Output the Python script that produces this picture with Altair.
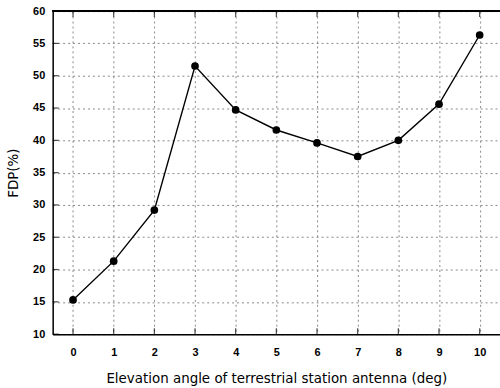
import altair as alt
import pandas as pd

angles = [0, 1, 2, 3, 4, 5, 6, 7, 8, 9, 10]
fdp = [15.3, 21.3, 29.2, 51.5, 44.7, 41.6, 39.6, 37.5, 40.0, 45.6, 56.3]
x_ticks = [0, 1, 2, 3, 4, 5, 6, 7, 8, 9, 10]
y_ticks = [10, 15, 20, 25, 30, 35, 40, 45, 50, 55, 60]

df = pd.DataFrame({"angle": angles, "fdp": fdp})
tick_df = pd.DataFrame({"t": x_ticks})
ytick_df = pd.DataFrame({"v": y_ticks})

W, H = 450, 325
font = "Liberation Sans"
tfont = "DejaVu Sans"

xscale = alt.Scale(domain=[-0.5, 10.5], nice=False, zero=False)
yscale = alt.Scale(domain=[10, 60], nice=False, zero=False)

xaxis = alt.Axis(values=x_ticks, title="Elevation angle of terrestrial station antenna (deg)",
                 grid=True, gridColor="#888888", gridDash=[2, 3], gridWidth=1,
                 domainColor="black", domainWidth=1.5, ticks=False,
                 labelOverlap=False, labelFlush=False,
                 labelFont=font, labelFontSize=11, labelFontWeight="bold", labelColor="black",
                 labelPadding=12, titleFont=tfont, titleFontSize=13.5, titleFontWeight="normal",
                 titleColor="black", titlePadding=15)
yaxis = alt.Axis(values=y_ticks, title="FDP(%)",
                 grid=True, gridColor="#888888", gridDash=[2, 3], gridWidth=1,
                 domainColor="black", domainWidth=1.5, ticks=False,
                 labelOverlap=False, labelFlush=False,
                 labelFont=font, labelFontSize=11, labelFontWeight="bold", labelColor="black",
                 labelPadding=8, titleFont=tfont, titleFontSize=13.5, titleFontWeight="normal",
                 titleColor="black", titlePadding=12)

base = alt.Chart(df)
line = base.mark_line(color="black", strokeWidth=1.4).encode(
    x=alt.X("angle:Q", scale=xscale, axis=xaxis),
    y=alt.Y("fdp:Q", scale=yscale, axis=yaxis),
)
pts = base.mark_point(filled=True, color="black", size=60, opacity=1).encode(
    x=alt.X("angle:Q", scale=xscale, axis=xaxis),
    y=alt.Y("fdp:Q", scale=yscale, axis=yaxis),
)
bottom_ticks = alt.Chart(tick_df).mark_tick(color="black", thickness=1.2, size=6).encode(
    x=alt.X("t:Q", scale=xscale, axis=xaxis),
    y=alt.value(H - 3),
)
top_ticks = alt.Chart(tick_df).mark_tick(color="black", thickness=1.2, size=6).encode(
    x=alt.X("t:Q", scale=xscale, axis=xaxis),
    y=alt.value(3),
)
left_ticks = alt.Chart(ytick_df).mark_tick(color="black", thickness=1.2, size=6, orient="horizontal").encode(
    y=alt.Y("v:Q", scale=yscale, axis=yaxis),
    x=alt.value(3),
)
top_line = alt.Chart(tick_df).mark_rule(color="black", strokeWidth=1.5).encode(
    x=alt.value(0), x2=alt.value(W), y=alt.value(0)
)

chart = alt.layer(line, pts, bottom_ticks, top_ticks, left_ticks, top_line).properties(
    width=W, height=H,
    autosize=alt.AutoSizeParams(type="none"),
    padding={"left": 53, "top": 10, "right": 0, "bottom": 53},
).configure_view(stroke=None).configure(background="white")

chart.save("out.html", embed_options={"renderer": "svg", "actions": False})
